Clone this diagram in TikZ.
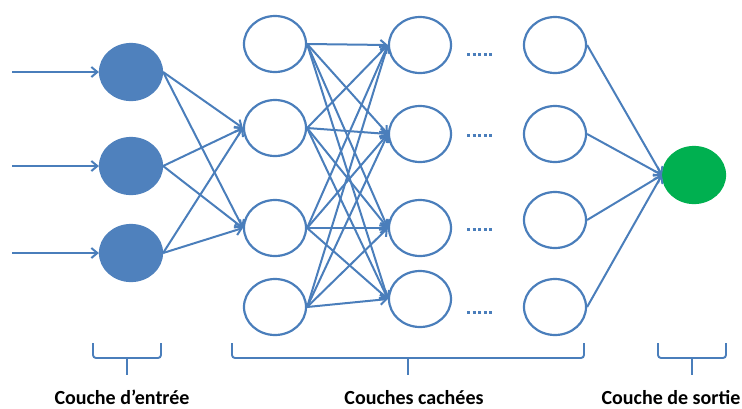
\documentclass[tikz,border=0pt]{standalone}
\usepackage{fontspec}
\setmainfont{Carlito}
\usetikzlibrary{arrows.meta,shapes.geometric}
\definecolor{nnblue}{RGB}{74,126,187}
\definecolor{nnfill}{RGB}{79,129,189}
\definecolor{nngreen}{RGB}{0,176,80}

\begin{document}
\begin{tikzpicture}[x=1pt,y=-1pt,
        neuron/.style={ellipse,draw=nnblue,line width=2.2pt,minimum width=62pt,minimum height=56pt,inner sep=0pt},
        entree/.style={neuron,draw=nnfill,fill=nnfill},
        sortie/.style={neuron,draw=nngreen,fill=nngreen},
        lien/.style={nnblue,line width=2pt,-{Straight Barb[length=6pt,width=10pt]}},
        pointille/.style={nnblue,line width=3pt,dash pattern=on 3pt off 2.6pt},
        accolade/.style={nnblue,line width=1.9pt,rounded corners=3pt},
        titre/.style={font=\fontsize{20}{24}\selectfont\bfseries,text=black,anchor=base,inner sep=0pt}]
    \useasboundingbox (0,0) rectangle (742,408);
    % couche d'entree
    \foreach \y [count=\i] in {72,166,253} {
        \node[entree] (in\i) at (131,\y) {};
        \coordinate (src\i) at (12,\y);
        \draw[lien] (src\i) -- (in\i.west);
    }
    % couches cachees
    \foreach \y [count=\i] in {44,128,228,307}
        \node[neuron] (ha\i) at (275,\y) {};
    \foreach \y [count=\i] in {45,134,228,299}
        \node[neuron] (hb\i) at (420,\y) {};
    \foreach \y [count=\i] in {45,134,220,307}
        \node[neuron] (hc\i) at (555,\y) {};
    % couche de sortie
    \node[sortie] (out) at (694,175) {};

    \foreach \i in {1,2,3}
        \foreach \j in {2,3}
            \draw[lien] (in\i.east) -- (ha\j.west);
    \foreach \i in {1,...,4}
        \foreach \j in {1,...,4}
            \draw[lien] (ha\i.east) -- (hb\j.west);
    \foreach \i in {1,...,4}
        \draw[lien] (hc\i.east) -- (out.west);

    % points de suspension
    \foreach \y in {54,135,229,312}
        \draw[pointille] (467,\y) -- (493,\y);

    % accolades et titres
    \draw[accolade] (93,343) -- (93,358) -- (161,358) -- (161,343);
    \draw[accolade] (127,358) -- (127,375);
    \draw[accolade] (232,343) -- (232,358) -- (584,358) -- (584,343);
    \draw[accolade] (408,358) -- (408,375);
    \draw[accolade] (658,343) -- (658,358) -- (726,358) -- (726,343);
    \draw[accolade] (692,358) -- (692,375);

    \node[titre] (t1) at (122,404) {Couche d’entrée};
    \node[titre] (t2) at (414,404) {Couches cachées};
    \node[titre] (t3) at (671,404) {Couche de sortie};
\end{tikzpicture}
\end{document}
